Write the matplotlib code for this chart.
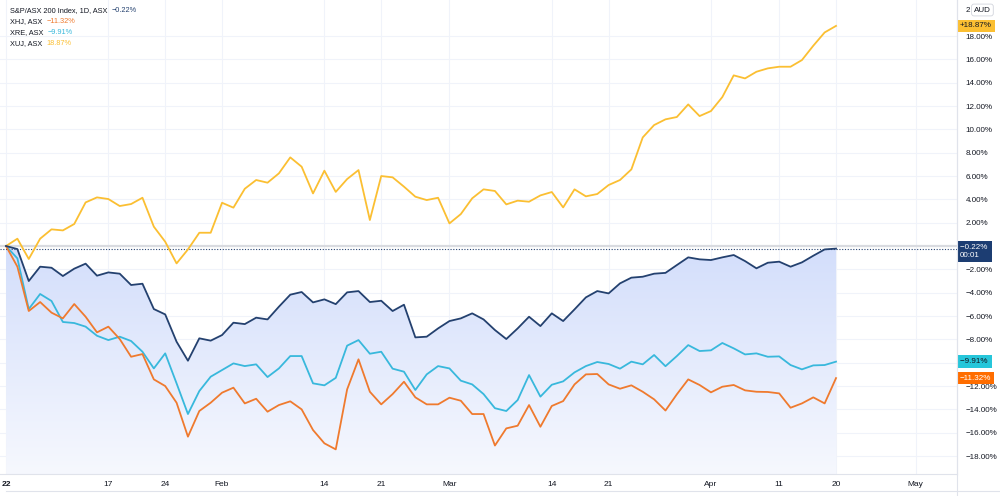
import numpy as np
import pandas as pd
import matplotlib
matplotlib.use('Agg')
import matplotlib.pyplot as plt
from matplotlib.colors import LinearSegmentedColormap
from matplotlib.lines import Line2D
from matplotlib.transforms import blended_transform_factory

plt.rcParams['font.family'] = ['Liberation Sans', 'DejaVu Sans']

# ASX trading days from 4 Jan 2022 (public holidays dropped)
holidays = ['2022-01-26', '2022-04-15', '2022-04-18', '2022-04-25']
days = pd.bdate_range('2022-01-04', '2022-05-06', freq='C', holidays=holidays)

# % change since 4 Jan
xjo = [0, -0.26, -3.0, -1.77, -1.86, -2.57, -1.94, -1.51, -2.54, -2.26,
       -2.37, -3.34, -3.23, -5.4, -5.86, -8.2, -9.83, -7.91, -8.11, -7.63,
       -6.57, -6.69, -6.14, -6.29, -5.2, -4.17, -3.94, -4.83, -4.57, -4.98,
       -3.97, -3.86, -4.8, -4.69, -5.57, -5.03, -7.83, -7.77, -7.06, -6.43,
       -6.2, -5.77, -6.29, -7.2, -7.97, -7.06, -6.06, -6.86, -5.77, -6.43,
       -5.43, -4.4, -3.86, -4.06, -3.2, -2.71, -2.63, -2.37, -2.3, -1.63,
       -0.97, -1.14, -1.2, -0.97, -0.77, -1.29, -1.91, -1.43, -1.34, -1.77,
       -1.4, -0.83, -0.29, -0.22]
xhj = [0, -1.77, -5.57, -4.8, -5.71, -6.2, -4.97, -6.06, -7.4, -6.91,
       -7.97, -9.49, -9.26, -11.43, -12.0, -13.43, -16.34, -14.14, -13.43, -12.57,
       -12.14, -13.49, -13.09, -14.2, -13.63, -13.31, -14.0, -15.77, -16.91, -17.43,
       -12.29, -9.71, -12.49, -13.57, -12.69, -11.63, -12.97, -13.57, -13.57, -13.0,
       -13.26, -14.4, -14.4, -17.1, -15.63, -15.4, -13.63, -15.49, -13.71, -13.29,
       -11.86, -11.0, -10.97, -11.86, -12.23, -11.94, -12.49, -13.14, -14.1, -12.71,
       -11.43, -11.91, -12.54, -12.06, -11.91, -12.37, -12.49, -12.51, -12.63, -13.86,
       -13.49, -12.97, -13.49, -11.32]
xre = [0, -1.06, -5.4, -4.11, -4.71, -6.51, -6.6, -6.91, -7.69, -8.06,
       -7.77, -8.14, -9.06, -10.49, -9.2, -11.77, -14.4, -12.43, -11.2, -10.63,
       -10.06, -10.29, -10.14, -11.23, -10.49, -9.43, -9.43, -11.77, -11.94, -11.3,
       -8.54, -8.06, -9.23, -9.06, -10.51, -10.77, -12.34, -11.0, -10.29, -10.49,
       -11.54, -11.86, -12.69, -13.9, -14.14, -13.2, -11.06, -12.91, -11.89, -11.6,
       -10.83, -10.29, -9.94, -10.11, -10.51, -9.91, -10.14, -9.34, -10.3, -9.43,
       -8.49, -9.0, -8.94, -8.31, -8.77, -9.29, -9.2, -9.49, -9.46, -10.2,
       -10.57, -10.23, -10.2, -9.91]
xuj = [0, 0.63, -1.11, 0.63, 1.43, 1.34, 1.89, 3.74, 4.17, 4.03,
       3.43, 3.6, 4.14, 1.66, 0.37, -1.49, -0.29, 1.14, 1.14, 3.71,
       3.29, 4.91, 5.66, 5.43, 6.23, 7.6, 6.8, 4.51, 6.46, 4.64,
       5.74, 6.51, 2.23, 6.0, 5.89, 5.09, 4.23, 3.94, 4.14, 1.94,
       2.74, 4.09, 4.86, 4.72, 3.57, 3.89, 3.8, 4.34, 4.63, 3.31,
       4.86, 4.26, 4.46, 5.23, 5.66, 6.57, 9.31, 10.37, 10.86, 11.06,
       12.14, 11.14, 11.57, 12.77, 14.63, 14.37, 14.94, 15.23, 15.37, 15.37,
       15.94, 17.17, 18.31, 18.87]

names = ['S&P/ASX 200 Index, 1D, ASX', 'XHJ, ASX', 'XRE, ASX', 'XUJ, ASX']
tick_dates = ['2022-01-04', '2022-01-17', '2022-01-24', '2022-02-01', '2022-02-14',
              '2022-02-21', '2022-03-01', '2022-03-14', '2022-03-21', '2022-04-01',
              '2022-04-11', '2022-04-20', '2022-05-02']
tick_labels = ['22', '17', '24', 'Feb', '14', '21', 'Mar', '14', '21', 'Apr', '11', '20', 'May']

navy = '#24416f'
orange = '#ef7a2e'
cyan = '#38b8dc'
gold = '#fbbf32'
txt = '#131722'
grid = '#f0f3fa'


def pct(v):
    return f'{v:.2f}%'.replace('-', '\u2212')


x = np.arange(len(xjo))
tick_pos = days.get_indexer(pd.to_datetime(tick_dates))

fig = plt.figure(figsize=(10, 4.96), dpi=100)
ax = fig.add_axes([0, 1 - 474 / 496, 0.957, 474 / 496])
ylo, yhi = -19.54, 21.09
xlo, xhi = -0.53, 83.64

# gradient area under the index line
fill = ax.fill_between(x, xjo, ylo, color='none', lw=0)
cmap = LinearSegmentedColormap.from_list('area', ['#f6f8fe', '#d3defb'])
grad = np.linspace(0, 1, 256).reshape(-1, 1)
im = ax.imshow(grad, extent=[x[0], x[-1], ylo, 0], origin='lower', aspect='auto',
               cmap=cmap, zorder=1)
im.set_clip_path(fill.get_paths()[0], transform=ax.transData)

ax.axhline(0, color='#d9dbe0', lw=1.6, zorder=1.5)
ax.axhline(xjo[-1], color=navy, lw=0.8, ls=(0, (1, 1.5)), zorder=1.6)

ax.plot(x, xuj, color=gold, lw=1.3, zorder=3)
ax.plot(x, xre, color=cyan, lw=1.3, zorder=3)
ax.plot(x, xhj, color=orange, lw=1.3, zorder=3)
ax.plot(x, xjo, color=navy, lw=1.3, zorder=4)

ax.set_xlim(xlo, xhi)
ax.set_ylim(ylo, yhi)

ax.set_xticks(tick_pos)
ax.set_xticklabels(tick_labels)
ax.get_xticklabels()[0].set_fontweight('bold')
ax.yaxis.tick_right()
yt = np.arange(-18, 19, 2)
ax.set_yticks(yt)
# 0% and -10% sit under the value labels, as on the original
ax.set_yticklabels(['' if v in (0, -10) else pct(v) for v in yt])
ax.tick_params(axis='x', length=0, pad=5, labelsize=6, labelcolor=txt)
ax.tick_params(axis='y', length=0, pad=6, labelsize=5.8, labelcolor=txt)
for lab in ax.get_yticklabels():
    lab.set_horizontalalignment('left')
ax.grid(color=grid, lw=0.8)
ax.set_axisbelow(True)
for s in ['top', 'left']:
    ax.spines[s].set_visible(False)
for s in ['right', 'bottom']:
    ax.spines[s].set_color('#e0e3eb')
    ax.spines[s].set_linewidth(0.8)

fig.add_artist(Line2D([0.957, 0.957], [0, 1], color='#e0e3eb', lw=0.8))
fig.add_artist(Line2D([0.006, 1], [1 - 491 / 496] * 2, color='#e0e3eb', lw=0.8))

# legend in the top-left corner
last = [xjo[-1], xhj[-1], xre[-1], xuj[-1]]
cols = [navy, orange, cyan, gold]
fig.canvas.draw()
rend = fig.canvas.get_renderer()
for k, (nm, v, c) in enumerate(zip(names, last, cols)):
    yy = 1 - (11 + 10.7 * k) / 496
    t = fig.text(0.010, yy, nm, fontsize=5.3, color=txt, va='center')
    bb = t.get_window_extent(rend)
    fig.text(bb.x1 / 1000 + 0.004, yy, pct(v), fontsize=5.3, color=c, va='center')

# value labels on the price scale
tr = blended_transform_factory(ax.transAxes, ax.transData)
box = dict(boxstyle='square,pad=0.35', lw=0)
ax.text(1.003, xuj[-1], '+' + pct(xuj[-1]), transform=tr, fontsize=5.8, color=txt,
        va='center', ha='left', bbox=dict(box, fc=gold), clip_on=False, zorder=6)
ax.text(1.003, xre[-1], pct(xre[-1]) + ' ', transform=tr, fontsize=5.8, color=txt,
        va='center', ha='left', bbox=dict(box, fc='#26c6da'), clip_on=False, zorder=6)
ax.text(1.003, xhj[-1], pct(xhj[-1]), transform=tr, fontsize=5.8, color='white',
        va='center', ha='left', bbox=dict(box, fc='#ff6d00'), clip_on=False, zorder=6)
ax.text(1.003, xjo[-1] + 0.4, pct(xjo[-1]) + ' \n00:01', transform=tr, fontsize=5.8,
        color='white', va='top', ha='left', linespacing=1.3,
        bbox=dict(box, fc='#1c3d72'), clip_on=False, zorder=6)

fig.text(0.966, 1 - 10 / 496, '2', fontsize=5.8, color=txt, va='center')
fig.text(0.974, 1 - 10 / 496, 'AUD', fontsize=5.8, color=txt, va='center',
         bbox=dict(boxstyle='round,pad=0.3', fc='white', ec='#d1d4dc', lw=0.6))

fig.savefig('out.png', dpi=100)
